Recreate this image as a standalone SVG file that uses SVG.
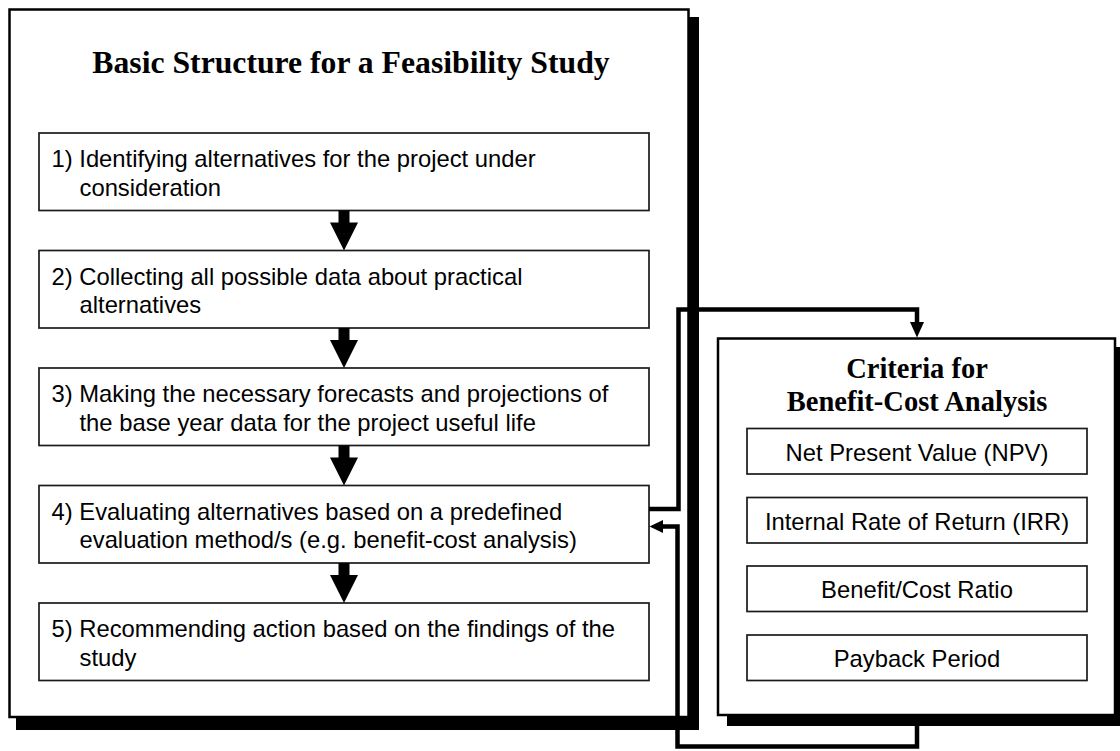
<svg xmlns="http://www.w3.org/2000/svg" width="1120" height="751" viewBox="0 0 1120 751">
<style>
.bg{fill:#ffffff}
.shadow{fill:#000000}
.frame{fill:#ffffff;stroke:#000000;stroke-width:2.5}
.step{fill:#ffffff;stroke:#1a1a1a;stroke-width:1.7}
.crit{fill:#ffffff;stroke:#1a1a1a;stroke-width:1.7}
.title{font-family:"Liberation Serif","Times New Roman",serif;font-weight:bold;fill:#000000;text-anchor:middle}
.txt{font-family:"Liberation Sans",Arial,sans-serif;font-size:23.8px;fill:#000000}
.ctr{text-anchor:middle}
.flow{fill:#000000}
.conn{fill:none;stroke:#000000;stroke-width:4.5;stroke-linejoin:miter}
.head{fill:#000000}
</style>
<rect class="bg" x="0" y="0" width="1120" height="751"/>

<g id="feasibility-study">
  <rect class="shadow" x="16" y="17" width="683" height="713"/>
  <rect class="frame" x="9.5" y="9.5" width="679" height="707.5"/>
  <text class="title" x="351" y="73" font-size="31.7">Basic Structure for a Feasibility Study</text>
</g>

<g id="step1">
  <rect class="step" x="39" y="133" width="610" height="77.5"/>
  <text class="txt" x="51.5" y="167">1) Identifying alternatives for the project under</text>
  <text class="txt" x="79.5" y="195.5">consideration</text>
</g>
<g id="step2">
  <rect class="step" x="39" y="250.5" width="610" height="77.5"/>
  <text class="txt" x="51.5" y="284.5">2) Collecting all possible data about practical</text>
  <text class="txt" x="79.5" y="313">alternatives</text>
</g>
<g id="step3">
  <rect class="step" x="39" y="368" width="610" height="77.5"/>
  <text class="txt" x="51.5" y="402">3) Making the necessary forecasts and projections of</text>
  <text class="txt" x="79.5" y="430.5">the base year data for the project useful life</text>
</g>
<g id="step4">
  <rect class="step" x="39" y="485.5" width="610" height="77.5"/>
  <text class="txt" x="51.5" y="519.5">4) Evaluating alternatives based on a predefined</text>
  <text class="txt" x="79.5" y="548">evaluation method/s (e.g. benefit-cost analysis)</text>
</g>
<g id="step5">
  <rect class="step" x="39" y="603" width="610" height="77.5"/>
  <text class="txt" x="51.5" y="637">5) Recommending action based on the findings of the</text>
  <text class="txt" x="79.5" y="665.5">study</text>
</g>

<g id="criteria">
  <rect class="shadow" x="727" y="347" width="400" height="379"/>
  <rect class="frame" x="718" y="338.5" width="397" height="376.5"/>
  <text class="title" x="917" y="378" font-size="28.5">Criteria for</text>
  <text class="title" x="917" y="411" font-size="28.5">Benefit-Cost Analysis</text>
</g>
<g id="npv">
  <rect class="crit" x="747" y="428.5" width="340" height="45.5"/>
  <text class="txt ctr" x="917" y="460.5">Net Present Value (NPV)</text>
</g>
<g id="irr">
  <rect class="crit" x="747" y="497.5" width="340" height="45.5"/>
  <text class="txt ctr" x="917" y="529.5">Internal Rate of Return (IRR)</text>
</g>
<g id="bcr">
  <rect class="crit" x="747" y="566" width="340" height="45.5"/>
  <text class="txt ctr" x="917" y="598">Benefit/Cost Ratio</text>
</g>
<g id="payback">
  <rect class="crit" x="747" y="635" width="340" height="45.5"/>
  <text class="txt ctr" x="917" y="667">Payback Period</text>
</g>

<g id="connectors">
  <polygon class="flow" points="338.5,210.5 349.5,210.5 349.5,222.5 358,222.5 344,250.5 330,222.5 338.5,222.5"/>
  <polygon class="flow" points="338.5,328 349.5,328 349.5,340 358,340 344,368 330,340 338.5,340"/>
  <polygon class="flow" points="338.5,445.5 349.5,445.5 349.5,457.5 358,457.5 344,485.5 330,457.5 338.5,457.5"/>
  <polygon class="flow" points="338.5,563 349.5,563 349.5,575 358,575 344,603 330,575 338.5,575"/>
  <path class="conn" d="M649,509 H678.5 V309.5 H917 V324"/>
  <polygon class="head" points="910,322 924,322 917,337.5"/>
  <path class="conn" d="M917,726 V746.5 H677.5 V526.5 H661"/>
  <polygon class="head" points="663,520 663,533 649.5,526.5"/>
</g>
</svg>
